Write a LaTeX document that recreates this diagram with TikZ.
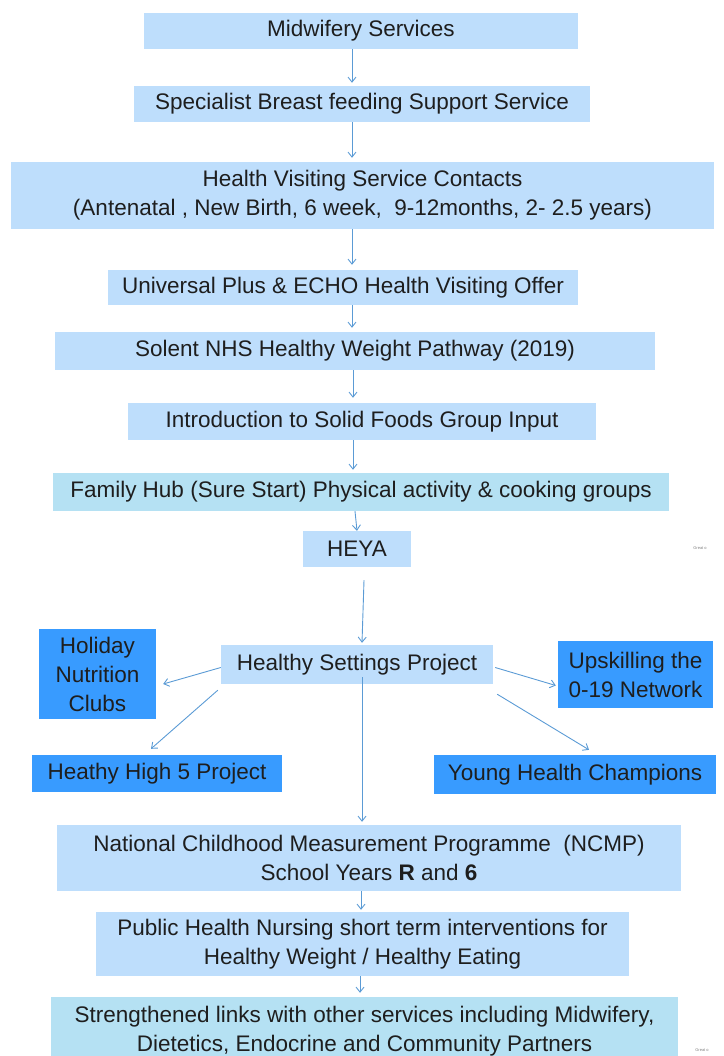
\documentclass[tikz,border=0pt]{standalone}
\usepackage{fontspec}
\setmainfont{Liberation Sans}
\usetikzlibrary{arrows.meta}
\definecolor{lb}{RGB}{190,222,252}
\definecolor{cy}{RGB}{181,225,243}
\definecolor{db}{RGB}{56,155,255}
\definecolor{ar}{RGB}{91,155,213}
\definecolor{tx}{RGB}{30,30,30}
\tikzset{
  box/.style={fill=lb,inner sep=0pt,align=center,text=tx,font=\fontsize{22.5}{29}\selectfont},
  cbox/.style={box,fill=cy},
  dbox/.style={box,fill=db},
  arr/.style={draw=ar,line width=0.9pt,-{Straight Barb[length=5pt,width=8pt]}},
  tiny/.style={font=\fontsize{4}{5}\selectfont,text=gray}
}
\begin{document}
\begin{tikzpicture}[x=1pt,y=1pt]
\useasboundingbox (0,0) rectangle (723,-1056);
\coordinate (c1) at (352,0);
\coordinate (c2) at (353,0);
\coordinate (c3) at (361,0);
\coordinate (c4) at (360,0);
\node[box,minimum width=434,minimum height=36] (mid) at (361,-31) {Midwifery Services};
\node[box,minimum width=456,minimum height=36] (spec) at (362,-104) {Specialist Breast feeding Support Service};
\node[box,minimum width=703,minimum height=67] (hv) at (362.5,-195.5) {Health Visiting Service Contacts\\(Antenatal , New Birth, 6 week,\ \ 9-12months, 2- 2.5 years)};
\node[box,minimum width=470,minimum height=35] (up) at (343,-287.5) {Universal Plus \& ECHO Health Visiting Offer};
\node[box,minimum width=600,minimum height=38] (sol) at (355,-351) {Solent NHS Healthy Weight Pathway (2019)};
\node[box,minimum width=468,minimum height=37] (intro) at (362,-421.5) {Introduction to Solid Foods Group Input};
\node[cbox,minimum width=616,minimum height=38] (fh) at (361,-492) {Family Hub (Sure Start) Physical activity \& cooking groups};
\node[box,minimum width=108,minimum height=36] (heya) at (357,-549) {HEYA};
\node[box,minimum width=272,minimum height=39] (hsp) at (357,-664.5) {Healthy Settings Project};
\node[dbox,minimum width=117,minimum height=90] (hol) at (97.5,-674) {Holiday\\Nutrition\\Clubs};
\node[dbox,minimum width=155,minimum height=67] (upsk) at (635.5,-674.5) {Upskilling the\\0-19 Network};
\node[dbox,minimum width=250,minimum height=37] (hh5) at (157,-773.5) {Heathy High 5 Project};
\node[dbox,minimum width=282,minimum height=39] (yhc) at (575,-774.5) {Young Health Champions};
\node[box,minimum width=624,minimum height=66] (ncmp) at (369,-858) {National Childhood Measurement Programme\ \ (NCMP)\\School Years \textbf{R} and \textbf{6}};
\node[box,minimum width=533,minimum height=64] (phn) at (362.5,-944) {Public Health Nursing short term interventions for\\Healthy Weight / Healthy Eating};
\node[cbox,minimum width=627,minimum height=68] (str) at (364.5,-1031) {Strengthened links with other services including Midwifery,\\Dietetics, Endocrine and Community Partners};
\node[tiny] (t1) at (700,-548) {Great o};
\node[tiny] (t2) at (702,-1050) {Great o};
% vertical arrows
\draw[arr,shorten >=3pt] (mid.south -| c1) -- (spec.north -| c1);
\draw[arr,shorten >=4pt] (spec.south -| c1) -- (hv.north -| c1);
\draw[arr,shorten >=5pt] (hv.south -| c1) -- (up.north -| c1);
\draw[arr,shorten >=4pt] (up.south -| c1) -- (sol.north -| c1);
\draw[arr,shorten >=5pt] (sol.south -| c2) -- (intro.north -| c2);
\draw[arr,shorten >=3pt] (intro.south -| c2) -- (fh.north -| c2);
\draw[arr] ([xshift=-6pt]fh.south) -- (heya.north);
\draw[arr] ([shift={(7pt,-13pt)}]heya.south) -- ([shift={(5pt,2pt)}]hsp.north);
\draw[arr] ([shift={(5pt,7pt)}]hsp.south) -- ([shift={(-7pt,3pt)}]ncmp.north);
\draw[arr,shorten >=2pt] (ncmp.south -| c3) -- (phn.north -| c3);
\draw[arr,shorten >=4pt] (phn.south -| c4) -- (str.north -| c4);
% branch arrows
\draw[arr] ([yshift=-3pt]hsp.west) -- ([shift={(7pt,-10pt)}]hol.east);
\draw[arr] ([shift={(-3pt,-6pt)}]hsp.south west) -- ([shift={(-6pt,6pt)}]hh5.north);
\draw[arr] ([shift={(2pt,-3pt)}]hsp.east) -- ([shift={(-2pt,-11pt)}]upsk.west);
\draw[arr] ([shift={(4pt,-10pt)}]hsp.south east) -- ([shift={(14pt,5pt)}]yhc.north);
\end{tikzpicture}
\end{document}
